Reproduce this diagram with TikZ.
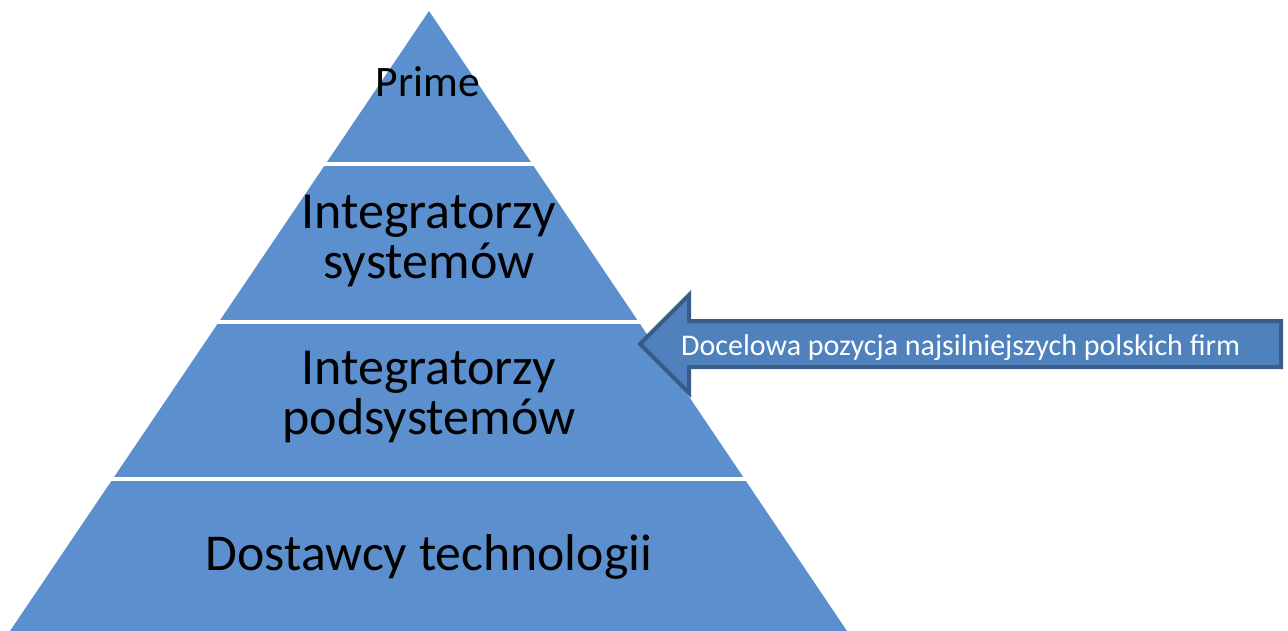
\documentclass[tikz,border=0pt]{standalone}
\usepackage{fontspec}
\setmainfont{Carlito}
\definecolor{pyr}{RGB}{91,143,205}
\definecolor{arrfill}{RGB}{79,129,189}
\definecolor{arrline}{RGB}{56,93,138}
\begin{document}
\begin{tikzpicture}[x=1pt,y=-1pt,
  layertext/.style={anchor=base, inner sep=0pt, text=black, font=\fontsize{52}{52}\selectfont},
  gapline/.style={draw=white, line width=4pt},
  callout/.style={draw=arrline, fill=arrfill, line width=4pt, line join=miter},
  callouttext/.style={anchor=base west, inner sep=0pt, text=white, font=\fontsize{30}{30}\selectfont}]
\useasboundingbox (0,0) rectangle (1288,631);
\coordinate (apex) at (429,11);
\coordinate (bl) at (10,631);
\coordinate (br) at (847,631);
\fill[pyr] (apex) -- (bl) -- (br) -- cycle;
\coordinate (g1l) at (300,164); \coordinate (g1r) at (560,164);
\coordinate (g2l) at (200,322); \coordinate (g2r) at (660,322);
\coordinate (g3l) at (90,479);  \coordinate (g3r) at (770,479);
\draw[gapline] (g1l) -- (g1r);
\draw[gapline] (g2l) -- (g2r);
\draw[gapline] (g3l) -- (g3r);
\node[layertext, font=\fontsize{43.5}{43.5}\selectfont] (prime) at (428,97) {Prime};
\node[layertext] (is1) at (429,229) {Integratorzy};
\node[layertext] (is2) at (429,278) {systemów};
\node[layertext] (ip1) at (429,384) {Integratorzy};
\node[layertext] (ip2) at (429,434) {podsystemów};
\node[layertext, font=\fontsize{51.7}{51.7}\selectfont] (dt) at (429,570) {Dostawcy technologii};
\draw[callout] (640,344) -- (689,295) -- (689,321) -- (1281,321) -- (1281,367) -- (689,367) -- (689,393) -- cycle;
\node[callouttext] (lbl) at (681,355) {Docelowa pozycja najsilniejszych polskich firm};
\end{tikzpicture}
\end{document}
